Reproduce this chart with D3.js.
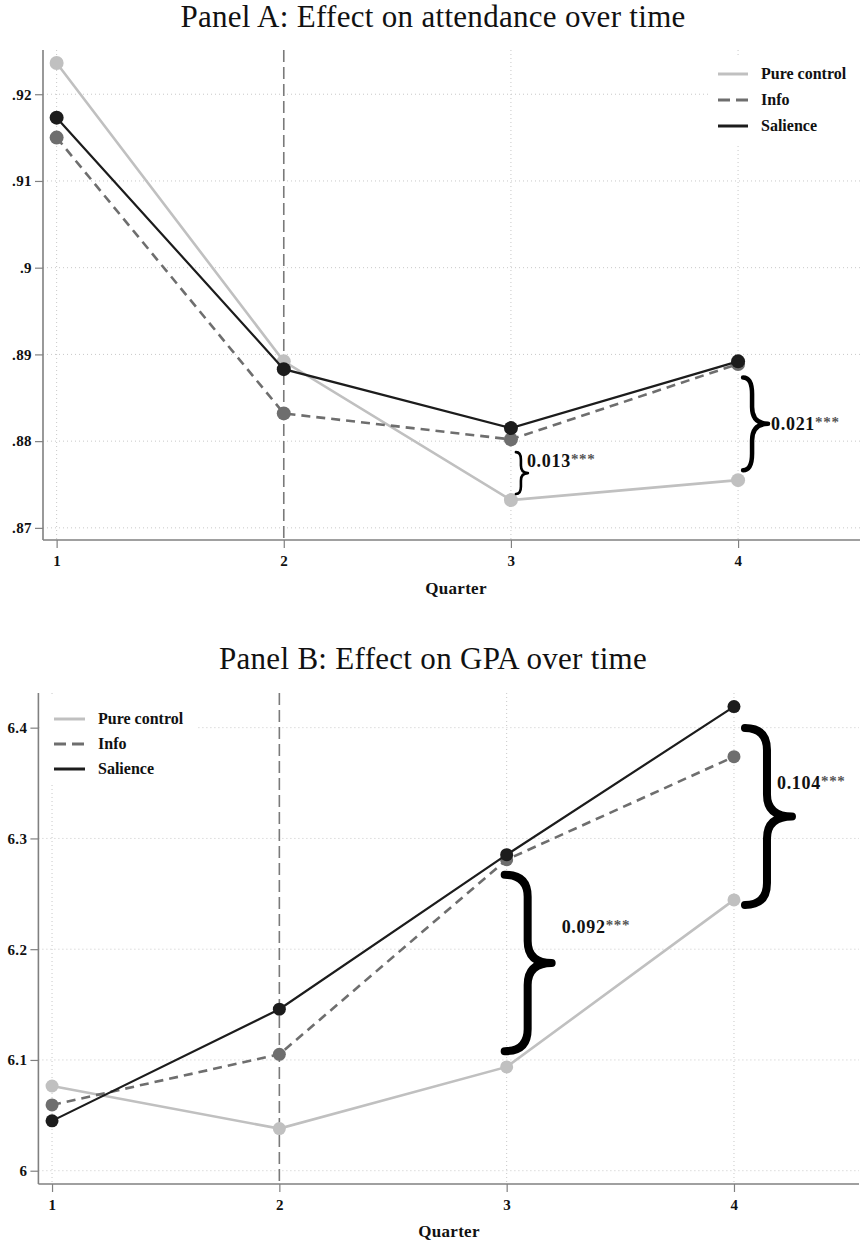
<!DOCTYPE html>
<html>
<head>
<meta charset="utf-8">
<script src="https://cdn.jsdelivr.net/npm/d3@7/dist/d3.min.js"></script>
<style>
  html, body { margin: 0; padding: 0; background: #fff; }
  svg { display: block; }
  text { font-family: "Liberation Serif", "Times New Roman", serif; }
</style>
</head>
<body>
<svg id="chart" width="860" height="1246"></svg>
<script>
// ---------------- data ----------------
const quarters = [1, 2, 3, 4];
const quarterLabels = ["1", "2", "3", "4"];
const seriesNames = ["Pure control", "Info", "Salience"];

// Panel A: attendance
const attControl  = [0.9236, 0.8892, 0.8732, 0.8755];
const attInfo     = [0.9150, 0.8832, 0.8802, 0.8889];
const attSalience = [0.9173, 0.8883, 0.8815, 0.8892];
const attTicks      = [0.87, 0.88, 0.89, 0.90, 0.91, 0.92];
const attTickLabels = [".87", ".88", ".89", ".9", ".91", ".92"];
const attDiffQuarter = [3, 4];
const attDiffTop     = [0.87873, 0.88735];
const attDiffBottom  = [0.87390, 0.87665];
const attDiffLabels  = ["0.013", "0.021"];
const attDiffLabelY  = [0.8770, 0.88127];

// Panel B: GPA
const gpaControl  = [6.0765, 6.0380, 6.0937, 6.2445];
const gpaInfo     = [6.0594, 6.1051, 6.2808, 6.3738];
const gpaSalience = [6.0450, 6.1458, 6.2853, 6.4190];
const gpaTicks      = [6.0, 6.1, 6.2, 6.3, 6.4];
const gpaTickLabels = ["6", "6.1", "6.2", "6.3", "6.4"];
const gpaDiffQuarter = [3, 4];
const gpaDiffTop     = [6.2672, 6.3997];
const gpaDiffBottom  = [6.1079, 6.2400];
const gpaDiffLabels  = ["0.092", "0.104"];
const gpaDiffLabelY  = [6.2147, 6.3449];

const treatmentQuarter = 2;
const stars = "***";

// ---------------- styles ----------------
const seriesStyle = [
  { color: "#c0c0c0", width: 2.6, dash: null },
  { color: "#6e6e6e", width: 2.6, dash: "9,6" },
  { color: "#1c1c1c", width: 2.2, dash: null }
];
const axisColor = "#808080";
const gridColor = "#c8c8c8";

const svg = d3.select("#chart");

function bracePath(x0, x1, x2, y0, y1) {
  const ym = (y0 + y1) / 2;
  const r = Math.min((y1 - y0) * 0.18, 22);
  return `M${x0},${y0} Q${x1},${y0} ${x1},${y0 + r} L${x1},${ym - r} Q${x1},${ym} ${x2},${ym}` +
         ` Q${x1},${ym} ${x1},${ym + r} L${x1},${y1 - r} Q${x1},${y1} ${x0},${y1}`;
}

function drawPanel(cfg) {
  const g = svg.append("g");
  const x = d3.scaleLinear().domain(cfg.xDomain).range(cfg.xRange);
  const y = d3.scaleLinear().domain(cfg.yDomain).range(cfg.yRange);
  const [xl, xr] = cfg.xRange;
  const [yb, yt] = cfg.yRange;

  // title
  g.append("text").attr("x", cfg.titleX).attr("y", cfg.titleY)
    .attr("text-anchor", "middle").attr("font-size", 31).attr("fill", "#111")
    .attr("letter-spacing", 0.3)
    .text(cfg.title);

  // horizontal grid
  g.append("g").selectAll("line").data(cfg.yTicks).join("line")
    .attr("x1", xl).attr("x2", xr)
    .attr("y1", d => y(d)).attr("y2", d => y(d))
    .attr("stroke", gridColor).attr("stroke-width", 1).attr("stroke-dasharray", "1,3");
  // vertical grid
  g.append("g").selectAll("line").data(quarters.filter(q => q !== treatmentQuarter)).join("line")
    .attr("x1", d => x(d)).attr("x2", d => x(d))
    .attr("y1", yt).attr("y2", yb)
    .attr("stroke", gridColor).attr("stroke-width", 1).attr("stroke-dasharray", "1,3");

  // legend background (covers grid)
  const L = cfg.legend;
  g.append("rect").attr("x", L.boxX).attr("y", L.boxY).attr("width", L.boxW).attr("height", L.boxH)
    .attr("fill", "#fff");

  // treatment line
  g.append("line").attr("x1", x(treatmentQuarter)).attr("x2", x(treatmentQuarter))
    .attr("y1", yt).attr("y2", yb)
    .attr("stroke", "#7a7a7a").attr("stroke-width", 1.6).attr("stroke-dasharray", "12,5");

  // axes
  const yAxis = d3.axisLeft(y).tickValues(cfg.yTicks)
    .tickFormat((d, i) => cfg.yTickLabels[i]).tickSize(8).tickPadding(3);
  const ya = g.append("g").attr("transform", `translate(${xl},0)`).call(yAxis);
  ya.select(".domain").attr("d", `M0,${yt}V${yb}`);
  const xAxis = d3.axisBottom(x).tickValues(quarters)
    .tickFormat((d, i) => quarterLabels[i]).tickSize(8).tickPadding(7);
  const xa = g.append("g").attr("transform", `translate(0,${yb})`).call(xAxis);
  xa.select(".domain").attr("d", `M${xl},0H${xr}`);
  [ya, xa].forEach(a => {
    a.select(".domain").attr("stroke", axisColor).attr("stroke-width", 1.6);
    a.selectAll(".tick line").attr("stroke", axisColor).attr("stroke-width", 1.2);
    a.selectAll(".tick text").attr("fill", "#111").attr("font-size", 15).attr("font-weight", "bold")
      .attr("font-family", "Liberation Serif, serif").attr("letter-spacing", 0.4);
  });

  // axis title
  g.append("text").attr("x", cfg.axisTitleX).attr("y", cfg.axisTitleY)
    .attr("text-anchor", "middle").attr("font-size", 17).attr("font-weight", "bold").attr("fill", "#111")
    .attr("letter-spacing", 0.3)
    .text("Quarter");

  // series
  const line = d3.line().x((d, i) => x(quarters[i])).y(d => y(d));
  cfg.series.forEach((vals, s) => {
    const st = seriesStyle[s];
    g.append("path").datum(vals).attr("d", line).attr("fill", "none")
      .attr("stroke", st.color).attr("stroke-width", st.width)
      .attr("stroke-dasharray", st.dash);
    g.append("g").selectAll("circle").data(vals).join("circle")
      .attr("cx", (d, i) => x(quarters[i])).attr("cy", d => y(d))
      .attr("r", cfg.markerR).attr("fill", st.color);
  });

  // legend
  seriesNames.forEach((name, s) => {
    const st = seriesStyle[s];
    const ly = L.y0 + s * L.dy;
    g.append("line").attr("x1", L.lineX1).attr("x2", L.lineX2).attr("y1", ly).attr("y2", ly)
      .attr("stroke", st.color).attr("stroke-width", 3)
      .attr("stroke-dasharray", st.dash ? "12,6" : null);
    g.append("text").attr("x", L.textX).attr("y", ly).attr("dy", "0.33em")
      .attr("font-size", 16).attr("font-weight", "bold").attr("fill", "#111").text(name);
  });

  // braces + labels
  cfg.diffQuarter.forEach((q, i) => {
    const b = cfg.braces[i];
    const xq = x(q);
    g.append("path")
      .attr("d", bracePath(xq + b.o0, xq + b.o1, xq + b.o2, y(cfg.diffTop[i]), y(cfg.diffBottom[i])))
      .attr("fill", "none").attr("stroke", "#000").attr("stroke-width", b.sw)
      .attr("stroke-linecap", "round").attr("stroke-linejoin", "round");
    const t = g.append("text").attr("x", xq + b.lx).attr("y", y(cfg.diffLabelY[i]))
      .attr("font-size", 18).attr("font-weight", "bold").attr("fill", "#111")
      .attr("letter-spacing", 0.7);
    t.append("tspan").text(cfg.diffLabels[i]);
    t.append("tspan").attr("font-size", 15).attr("fill", "#555").attr("dy", -3).text(stars);
  });
}

drawPanel({
  title: "Panel A: Effect on attendance over time",
  titleX: 433, titleY: 27,
  xDomain: [0.94, 4.55], xRange: [43, 863],
  yDomain: [0.8686, 0.9251], yRange: [540, 50],
  yTicks: attTicks, yTickLabels: attTickLabels,
  axisTitleX: 456, axisTitleY: 594,
  series: [attControl, attInfo, attSalience],
  markerR: 7,
  legend: { boxX: 709, boxY: 55, boxW: 151, boxH: 88, lineX1: 718, lineX2: 748, textX: 761, y0: 74, dy: 26 },
  diffQuarter: attDiffQuarter, diffTop: attDiffTop, diffBottom: attDiffBottom,
  diffLabels: attDiffLabels, diffLabelY: attDiffLabelY,
  braces: [ { o0: 5, o1: 10, o2: 17, sw: 2.6, lx: 16 }, { o0: 5, o1: 14, o2: 30, sw: 4.5, lx: 33 } ]
});

drawPanel({
  title: "Panel B: Effect on GPA over time",
  titleX: 433, titleY: 669,
  xDomain: [0.94, 4.55], xRange: [38.4, 859],
  yDomain: [5.988, 6.4313], yRange: [1184, 693],
  yTicks: gpaTicks, yTickLabels: gpaTickLabels,
  axisTitleX: 449, axisTitleY: 1237,
  series: [gpaControl, gpaInfo, gpaSalience],
  markerR: 6.5,
  legend: { boxX: 42, boxY: 697, boxW: 156, boxH: 88, lineX1: 54, lineX2: 85, textX: 98, y0: 719, dy: 25 },
  diffQuarter: gpaDiffQuarter, diffTop: gpaDiffTop, diffBottom: gpaDiffBottom,
  diffLabels: gpaDiffLabels, diffLabelY: gpaDiffLabelY,
  braces: [ { o0: -2, o1: 21, o2: 45, sw: 8, lx: 55 }, { o0: 11, o1: 33, o2: 58, sw: 8, lx: 43 } ]
});
</script>
</body>
</html>
